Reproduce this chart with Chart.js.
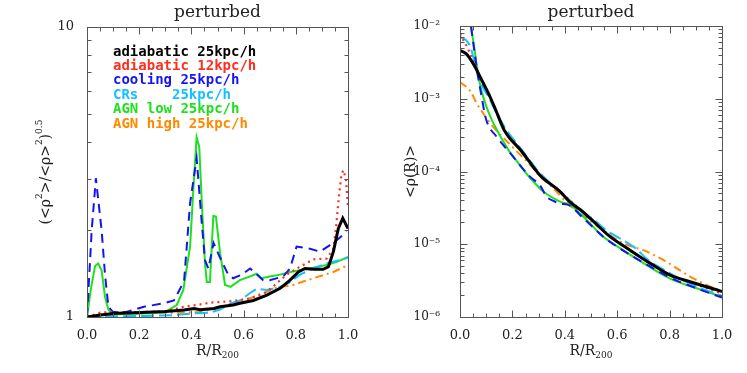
<!DOCTYPE html>
<html>
<head>
<meta charset="utf-8">
<script src="https://cdn.jsdelivr.net/npm/chart.js@4.4.1/dist/chart.umd.min.js"></script>
<style>
body { margin: 0; background: #fff; }
#wrap { position: relative; width: 747px; height: 373px; }
canvas { position: absolute; top: 0; }
</style>
</head>
<body>
<div id="wrap">
<canvas id="left" width="373" height="373" style="left:0"></canvas>
<canvas id="right" width="374" height="373" style="left:373px"></canvas>
</div>
<script>
// series names (legend) and colors
const seriesNames = ['adiabatic 25kpc/h', 'adiabatic 12kpc/h', 'cooling 25kpc/h', 'CRs    25kpc/h', 'AGN low 25kpc/h', 'AGN high 25kpc/h'];
const seriesColors = ['#000000', '#ff2e1e', '#1414f0', '#14c0ff', '#1ee01e', '#ff8a00'];

// tick labels
const xTickVals = [0, 0.2, 0.4, 0.6, 0.8, 1.0];
const leftYTicks = [1, 10];
const rightYTicks = [1e-6, 1e-5, 1e-4, 1e-3, 1e-2];

// ---- left panel: (<rho^2>/<rho>^2)^0.5 ----
const adi25X = [0, 0.05, 0.114, 0.18, 0.3, 0.372, 0.41, 0.433, 0.487, 0.51, 0.56, 0.586, 0.637, 0.689, 0.74, 0.778, 0.81, 0.835, 0.87, 0.905, 0.925, 0.944, 0.963, 0.98, 1.0];
const adi25Y = [1.0, 1.016, 1.03, 1.035, 1.045, 1.057, 1.07, 1.06, 1.07, 1.085, 1.1, 1.115, 1.14, 1.19, 1.256, 1.34, 1.43, 1.47, 1.46, 1.46, 1.49, 1.68, 2.02, 2.19, 2.02];

const adi12X = [0, 0.05, 0.1, 0.2, 0.3, 0.372, 0.42, 0.47, 0.56, 0.625, 0.689, 0.765, 0.816, 0.867, 0.918, 0.944, 0.954, 0.965, 0.975, 0.982, 0.992, 1.0];
const adi12Y = [1.0, 1.035, 1.04, 1.04, 1.045, 1.085, 1.1, 1.12, 1.135, 1.16, 1.22, 1.40, 1.49, 1.58, 1.59, 1.72, 2.02, 2.6, 3.1, 3.21, 3.0, 2.4];

const coolX = [0, 0.018, 0.034, 0.056, 0.069, 0.082, 0.1, 0.15, 0.218, 0.295, 0.333, 0.372, 0.395, 0.42, 0.44, 0.452, 0.465, 0.485, 0.51, 0.541, 0.56, 0.593, 0.625, 0.675, 0.70, 0.752, 0.778, 0.803, 0.854, 0.893, 0.931, 0.96, 0.995];
const coolY = [1.0, 1.99, 3.01, 1.99, 1.4, 1.085, 1.04, 1.04, 1.085, 1.115, 1.14, 1.33, 2.47, 3.53, 2.1, 1.57, 1.47, 1.8, 1.6, 1.40, 1.36, 1.40, 1.47, 1.34, 1.34, 1.38, 1.47, 1.75, 1.72, 1.68, 1.77, 1.85, 1.97];

const crX = [0, 0.1, 0.23, 0.33, 0.41, 0.47, 0.51, 0.548, 0.586, 0.625, 0.65, 0.689, 0.74, 0.778, 0.816, 0.867, 0.918, 1.0];
const crY = [1.0, 1.005, 1.008, 1.015, 1.03, 1.035, 1.06, 1.11, 1.14, 1.21, 1.25, 1.24, 1.27, 1.32, 1.40, 1.47, 1.53, 1.60];

const agnLowX = [0, 0.015, 0.031, 0.043, 0.056, 0.069, 0.082, 0.095, 0.15, 0.25, 0.3, 0.344, 0.369, 0.395, 0.408, 0.42, 0.43, 0.44, 0.452, 0.459, 0.471, 0.484, 0.494, 0.51, 0.529, 0.55, 0.586, 0.625, 0.65, 0.669, 0.70, 0.74, 0.778, 0.816, 0.867, 0.918, 0.957, 1.0];
const agnLowY = [1.0, 1.25, 1.5, 1.53, 1.45, 1.175, 1.06, 1.02, 1.025, 1.03, 1.04, 1.10, 1.24, 1.75, 2.81, 4.17, 3.87, 2.47, 1.53, 1.32, 1.32, 2.23, 2.22, 1.66, 1.29, 1.27, 1.34, 1.38, 1.41, 1.36, 1.38, 1.40, 1.43, 1.45, 1.48, 1.51, 1.55, 1.61];

const agnHighX = [0, 0.1, 0.23, 0.333, 0.43, 0.522, 0.56, 0.625, 0.689, 0.72, 0.79, 0.867, 0.944, 1.0];
const agnHighY = [1.0, 1.03, 1.035, 1.035, 1.04, 1.085, 1.12, 1.16, 1.22, 1.26, 1.29, 1.36, 1.43, 1.51];

// ---- right panel: <rho(R)> ----
const rAdi25X = [0, 0.023, 0.042, 0.061, 0.08, 0.099, 0.118, 0.137, 0.169, 0.235, 0.305, 0.382, 0.42, 0.458, 0.496, 0.573, 0.649, 0.725, 0.80, 0.878, 1.0];
const rAdi25Y = [4.6e-3, 4.17e-3, 3.4e-3, 2.6e-3, 1.9e-3, 1.39e-3, 1.0e-3, 6.9e-4, 3.7e-4, 1.9e-4, 8.9e-5, 5.3e-5, 3.8e-5, 3.0e-5, 2.28e-5, 1.27e-5, 8.3e-6, 5.5e-6, 3.8e-6, 3.05e-6, 2.24e-6];

const rAdi12X = [0, 0.036, 0.068, 0.099, 0.137, 0.169, 0.235, 0.305, 0.382, 0.458, 0.5, 0.573, 0.649, 0.725, 0.80, 0.878, 1.0];
const rAdi12Y = [7.8e-3, 4.4e-3, 2.3e-3, 1.4e-3, 7.0e-4, 3.8e-4, 1.9e-4, 9.0e-5, 5.3e-5, 3.0e-5, 2.2e-5, 1.27e-5, 8.2e-6, 5.5e-6, 3.8e-6, 3.0e-6, 2.1e-6];

const rCoolX = [0.03, 0.042, 0.055, 0.068, 0.08, 0.099, 0.14, 0.191, 0.267, 0.305, 0.331, 0.36, 0.382, 0.41, 0.47, 0.547, 0.62, 0.70, 0.80, 0.90, 1.0];
const rCoolY = [2.5e-2, 1.0e-2, 4.5e-3, 2.1e-3, 1.2e-3, 5.3e-4, 3.0e-4, 1.8e-4, 8.5e-5, 6.5e-5, 4.5e-5, 3.9e-5, 3.6e-5, 3.5e-5, 2.3e-5, 1.27e-5, 8.3e-6, 5.6e-6, 3.5e-6, 2.5e-6, 1.85e-6];

const rCrX = [0, 0.023, 0.042, 0.055, 0.068, 0.087, 0.112, 0.137, 0.172, 0.235, 0.305, 0.38, 0.458, 0.509, 0.56, 0.611, 0.674, 0.712, 0.776, 0.85, 0.93, 1.0];
const rCrY = [7.0e-3, 6.4e-3, 4.9e-3, 3.2e-3, 2.1e-3, 1.45e-3, 1.0e-3, 6.6e-4, 4.0e-4, 2.0e-4, 9.5e-5, 5.4e-5, 3.0e-5, 2.2e-5, 1.55e-5, 1.2e-5, 8.6e-6, 6.3e-6, 4.5e-6, 3.2e-6, 2.4e-6, 1.95e-6];

const rAgnLowX = [0.03, 0.042, 0.055, 0.068, 0.08, 0.099, 0.125, 0.184, 0.223, 0.267, 0.318, 0.382, 0.42, 0.47, 0.547, 0.623, 0.70, 0.80, 0.903, 1.0];
const rAgnLowY = [2.5e-2, 1.0e-2, 4.9e-3, 2.3e-3, 1.38e-3, 8.1e-4, 4.8e-4, 2.0e-4, 1.3e-4, 8.2e-5, 5.3e-5, 3.85e-5, 3.47e-5, 2.4e-5, 1.27e-5, 8.3e-6, 5.5e-6, 3.4e-6, 2.48e-6, 1.9e-6];

const rAgnHighX = [0, 0.042, 0.061, 0.08, 0.12, 0.21, 0.274, 0.305, 0.344, 0.42, 0.509, 0.623, 0.70, 0.776, 0.878, 0.954, 1.0];
const rAgnHighY = [1.7e-3, 1.24e-3, 9.0e-4, 7.0e-4, 4.4e-4, 2.0e-4, 1.17e-4, 8.5e-5, 6.5e-5, 3.4e-5, 1.95e-5, 1.03e-5, 8.3e-6, 6.1e-6, 3.6e-6, 2.63e-6, 2.24e-6];

const SERIF = '"DejaVu Serif", serif';
const dashes = [[], [2, 4], [9, 6], [13, 5], [], [8, 4, 2, 4]];
const widths = [3, 2.2, 2, 2, 2, 2];

function makeSet(i, xs, ys, smooth) {
    return {
        label: seriesNames[i],
        data: xs.map((x, k) => ({ x: x, y: ys[k] })),
        borderColor: seriesColors[i],
        borderWidth: widths[i],
        borderDash: dashes[i],
        pointRadius: 0,
        fill: false,
        tension: 0,
        cubicInterpolationMode: smooth ? 'monotone' : 'default'
    };
}

const SUP = { '-': '\u207B', '0': '\u2070', '1': '\u00B9', '2': '\u00B2', '3': '\u00B3', '4': '\u2074', '5': '\u2075', '6': '\u2076' };
function supText(s) {
    return String(s).split('').map(c => SUP[c] || c).join('');
}

// draws text made of pieces; pieces with sup/sub are smaller and shifted
function drawPieces(ctx, pieces, cx, cy, size) {
    let total = 0;
    pieces.forEach(p => {
        ctx.font = (p.sup || p.sub ? Math.round(size * 0.62) : size) + 'px ' + SERIF;
        p.w = ctx.measureText(p.t).width;
        total += p.w;
    });
    let x = cx - total / 2;
    pieces.forEach(p => {
        ctx.font = (p.sup || p.sub ? Math.round(size * 0.62) : size) + 'px ' + SERIF;
        const dy = p.sup ? -size * 0.45 : (p.sub ? size * 0.3 : 0);
        ctx.fillText(p.t, x, cy + dy);
        x += p.w;
    });
}

// frame, inward ticks, title, axis titles, legend
const deco = {
    id: 'deco',
    afterDraw(chart, args, opts) {
        const ctx = chart.ctx;
        const a = chart.chartArea;
        const xs = chart.scales.x, ys = chart.scales.y;
        ctx.save();
        ctx.strokeStyle = '#555';
        ctx.lineWidth = 1;
        const L = Math.round(a.left) + 0.5, R = Math.round(a.right) + 0.5;
        const T = Math.round(a.top) + 0.5, B = Math.round(a.bottom) + 0.5;
        ctx.strokeRect(L, T, R - L, B - T);
        const seg = (x1, y1, x2, y2) => { ctx.beginPath(); ctx.moveTo(x1, y1); ctx.lineTo(x2, y2); ctx.stroke(); };
        for (let k = 0; k <= 20; k++) {
            const px = Math.round(xs.getPixelForValue(k * 0.05)) + 0.5;
            const len = k % 4 === 0 ? 7 : 4;
            seg(px, B, px, B - len);
            seg(px, T, px, T + len);
        }
        const e0 = Math.round(Math.log10(ys.min)), e1 = Math.round(Math.log10(ys.max));
        for (let e = e0; e <= e1; e++) {
            for (let m = 1; m <= 9; m++) {
                const v = m * Math.pow(10, e);
                if (v < ys.min * 0.999 || v > ys.max * 1.001) continue;
                const py = Math.round(ys.getPixelForValue(v)) + 0.5;
                const len = m === 1 ? 7 : 4;
                seg(L, py, L + len, py);
                seg(R, py, R - len, py);
            }
        }

        ctx.fillStyle = '#222';
        ctx.textBaseline = 'middle';
        ctx.textAlign = 'center';
        ctx.font = '17px ' + SERIF;
        ctx.fillText(opts.title, (a.left + a.right) / 2, 13);

        ctx.textAlign = 'left';
        drawPieces(ctx, [{ t: 'R/R' }, { t: '200', sub: true }], (a.left + a.right) / 2, 351, 14);

        ctx.save();
        ctx.translate(opts.yLabelX, (a.top + a.bottom) / 2);
        ctx.rotate(-Math.PI / 2);
        drawPieces(ctx, opts.yLabel, 0, 0, 14);
        ctx.restore();

        if (opts.legend) {
            ctx.font = 'bold 14px "DejaVu Sans Mono", monospace';
            chart.data.datasets.forEach((d, i) => {
                ctx.fillStyle = d.borderColor;
                ctx.fillText(d.label, 113, 52 + i * 14.4);
            });
        }
        ctx.restore();
    }
};

function makeScales(yMin, yMax, yTicks, yFmt, yPad, ySize) {
    return {
        x: {
            type: 'linear', min: 0, max: 1,
            afterBuildTicks: s => { s.ticks = xTickVals.map(v => ({ value: v })); },
            afterFit: s => { s.height = 56; },
            grid: { display: false }, border: { display: false },
            ticks: { callback: v => Number(v).toFixed(1), font: { family: SERIF, size: 13 }, color: '#222', padding: 3, maxRotation: 0, autoSkip: false }
        },
        y: {
            type: 'logarithmic', min: yMin, max: yMax,
            afterBuildTicks: s => { s.ticks = yTicks.map(v => ({ value: v })); },
            afterFit: s => { s.width = 87; },
            grid: { display: false }, border: { display: false },
            ticks: { callback: yFmt, font: { family: SERIF, size: ySize }, color: '#222', padding: yPad, autoSkip: false }
        }
    };
}

new Chart(document.getElementById('left'), {
    type: 'line',
    data: {
        datasets: [
            makeSet(0, adi25X, adi25Y, false),
            makeSet(1, adi12X, adi12Y, false),
            makeSet(2, coolX, coolY, false),
            makeSet(3, crX, crY, false),
            makeSet(4, agnLowX, agnLowY, false),
            makeSet(5, agnHighX, agnHighY, false)
        ]
    },
    options: {
        responsive: false,
        animation: false,
        devicePixelRatio: 1,
        layout: { padding: { left: 0, right: 25, top: 27, bottom: 0 } },
        scales: makeScales(1, 10, leftYTicks, v => String(Math.round(v)), 5, 13),
        plugins: {
            legend: { display: false },
            tooltip: { enabled: false },
            deco: {
                title: 'perturbed', legend: true, yLabelX: 46,
                yLabel: [{ t: '(<\u03C1' }, { t: '2', sup: true }, { t: '>/<\u03C1>' }, { t: '2', sup: true }, { t: ')' }, { t: '0.5', sup: true }]
            }
        }
    },
    plugins: [deco]
});

new Chart(document.getElementById('right'), {
    type: 'line',
    data: {
        datasets: [
            makeSet(0, rAdi25X, rAdi25Y, true),
            makeSet(1, rAdi12X, rAdi12Y, true),
            makeSet(2, rCoolX, rCoolY, true),
            makeSet(3, rCrX, rCrY, true),
            makeSet(4, rAgnLowX, rAgnLowY, true),
            makeSet(5, rAgnHighX, rAgnHighY, true)
        ]
    },
    options: {
        responsive: false,
        animation: false,
        devicePixelRatio: 1,
        layout: { padding: { left: 0, right: 25, top: 26, bottom: 0 } },
        scales: makeScales(1e-6, 1e-2, rightYTicks, v => '10' + supText(Math.round(Math.log10(v))), 12, 12),
        plugins: {
            legend: { display: false },
            tooltip: { enabled: false },
            deco: {
                title: 'perturbed', legend: false, yLabelX: 38,
                yLabel: [{ t: '<\u03C1(R)>' }]
            }
        }
    },
    plugins: [deco]
});
</script>
</body>
</html>
